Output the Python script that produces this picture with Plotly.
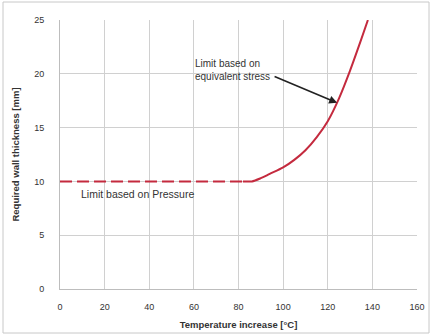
import plotly.graph_objects as go

# Pressure-governed limit (constant thickness)
pressure_temp = [0, 20, 40, 60, 82]
pressure_thk = [10, 10, 10, 10, 10]

# Equivalent-stress-governed limit
stress_temp = [82, 86, 90, 94, 100, 105, 110, 115, 120, 125, 130, 135, 138]
stress_thk = [10, 10, 10.3, 10.7, 11.3, 12.0, 12.9, 14.1, 15.6, 17.7, 20.3, 23.2, 25]

x_ticks = [0, 20, 40, 60, 80, 100, 120, 140, 160]
y_ticks = [0, 5, 10, 15, 20, 25]

line_color = "#c42a3e"
text_color = "#333333"
font = "Liberation Sans, Arial, sans-serif"

fig = go.Figure()
fig.add_trace(go.Scatter(
    x=pressure_temp, y=pressure_thk, mode="lines",
    line=dict(color=line_color, width=2, dash="12px,5px"),
    showlegend=False, hoverinfo="skip"))
fig.add_trace(go.Scatter(
    x=stress_temp, y=stress_thk, mode="lines",
    line=dict(color=line_color, width=2, shape="spline", smoothing=0.8),
    showlegend=False, hoverinfo="skip"))

fig.add_annotation(
    x=59.5, y=20.4, xref="x", yref="y", xanchor="left", yanchor="middle",
    text="Limit based on<br>equivalent stress", showarrow=False, align="left",
    font=dict(size=10, color=text_color, family=font))
fig.add_annotation(
    x=124.2, y=17.3, ax=95.5, ay=19.8, xref="x", yref="y", axref="x", ayref="y",
    text="", showarrow=True, arrowhead=2, arrowsize=1, arrowwidth=1.6,
    arrowcolor="#222222")
fig.add_annotation(
    x=8.3, y=8.8, xref="x", yref="y", xanchor="left", yanchor="middle",
    text="Limit based on Pressure", showarrow=False,
    font=dict(size=10.5, color=text_color, family=font))

# Outer chart frame
fig.add_shape(type="rect", xref="paper", yref="paper",
              x0=-57 / 357, x1=1 + 12 / 357, y0=-44 / 269, y1=1 + 18 / 269,
              line=dict(color="#c8c8c8", width=1))

fig.update_xaxes(
    range=[0, 160], tickvals=x_ticks, ticktext=[str(v) for v in x_ticks],
    showgrid=True, gridcolor="#d0d0d0", gridwidth=1, zeroline=False,
    showline=True, linecolor="#bdbdbd", linewidth=1, automargin=False,
    ticks="outside", ticklen=9, tickcolor="rgba(0,0,0,0)",
    tickfont=dict(size=9, color=text_color, family=font),
    title=dict(text="<b>Temperature increase [°C]</b>", standoff=10,
               font=dict(size=9.5, color=text_color, family=font)))
fig.update_yaxes(
    range=[0, 25], tickvals=y_ticks, ticktext=[str(v) for v in y_ticks],
    showgrid=True, gridcolor="#d0d0d0", gridwidth=1, zeroline=False,
    showline=True, linecolor="#bdbdbd", linewidth=1, automargin=False,
    ticks="outside", ticklen=13, tickcolor="rgba(0,0,0,0)",
    tickfont=dict(size=9, color=text_color, family=font),
    title=dict(text="<b>Required wall thickness [mm]</b>", standoff=12,
               font=dict(size=9.5, color=text_color, family=font)))

fig.update_layout(
    width=431, height=335,
    margin=dict(l=60, r=14, t=20, b=46),
    paper_bgcolor="white", plot_bgcolor="white",
    font=dict(family=font, color=text_color))

fig.write_html("out.html")
